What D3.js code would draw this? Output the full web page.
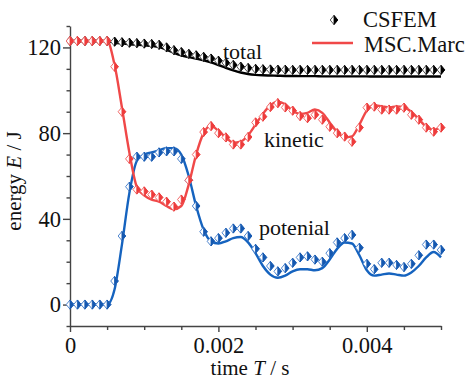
<!DOCTYPE html>
<html>
<head>
<meta charset="utf-8">
<script src="https://cdn.jsdelivr.net/npm/d3@7"></script>
<style>
  html, body { margin: 0; padding: 0; background: #fff; }
  svg { display: block; }
  svg text { font-family: "Liberation Serif", "Times New Roman", "DejaVu Serif", serif; fill: #111; }
</style>
</head>
<body>
<svg id="chart" width="472" height="381"></svg>
<script>
// time samples (s)
const times = [
  0, 0.0001, 0.0002, 0.0003, 0.0004, 0.0005, 0.0006, 0.0007, 0.0008, 0.0009,
  0.0010, 0.0011, 0.0012, 0.0013, 0.0014, 0.0015, 0.0016, 0.0017, 0.0018, 0.0019,
  0.0020, 0.0021, 0.0022, 0.0023, 0.0024, 0.0025, 0.0026, 0.0027, 0.0028, 0.0029,
  0.0030, 0.0031, 0.0032, 0.0033, 0.0034, 0.0035, 0.0036, 0.0037, 0.0038, 0.0039,
  0.0040, 0.0041, 0.0042, 0.0043, 0.0044, 0.0045, 0.0046, 0.0047, 0.0048, 0.0049,
  0.0050
];

// MSC.Marc reference solution (J)
const totalMarc = [
  123, 123, 123, 123, 123, 123, 122.2, 121.8, 121.5, 121.3,
  121, 120.7, 120.2, 119, 117.5, 116.3, 115.5, 114.8, 114, 113,
  111.8, 110.5, 109.3, 108.3, 107.6, 107.2, 107, 106.9, 106.8, 106.7,
  106.7, 106.6, 106.6, 106.6, 106.5, 106.5, 106.5, 106.5, 106.5, 106.5,
  106.5, 106.4, 106.4, 106.4, 106.4, 106.4, 106.4, 106.4, 106.4, 106.4,
  106.4
];
const kineticMarc = [
  123, 123, 123, 123, 123, 123, 112, 92, 71, 55,
  51, 49, 48, 46, 44.5, 46, 56, 70, 80, 83.5,
  81, 78, 75.5, 76, 79, 84, 89, 93, 94.7, 93.5,
  90.5, 89, 89.5, 91, 89.5, 85, 80.5, 78, 78.5, 84,
  90.5, 93, 92.5, 92, 92.5, 92, 90, 86.5, 83, 81.5,
  83
];
const potentialMarc = [
  0, 0, 0, 0, 0, 0, 7, 28, 52, 67,
  70, 71, 72, 73, 73, 70, 60, 46, 35, 29.5,
  28.5, 29.5, 31, 31.5, 29, 24, 18, 14, 12.5, 13.5,
  15.5, 16.5, 16.5, 16, 17, 21, 26, 29, 28.5, 23,
  16, 13.5, 14, 14.5, 14, 13.5, 15, 18, 22, 24.5,
  22
];

// CSFEM solution (J)
const totalCsfem = [
  123, 123, 123, 123, 123, 123, 122.7, 122.4, 122.2, 122,
  121.8, 121.6, 121.2, 120, 118.7, 117.8, 117, 116.3, 115.6, 114.8,
  113.8, 112.8, 111.8, 111, 110.4, 110, 109.8, 109.7, 109.6, 109.6,
  109.5, 109.5, 109.5, 109.5, 109.5, 109.5, 109.5, 109.5, 109.5, 109.5,
  109.5, 109.5, 109.5, 109.5, 109.5, 109.5, 109.5, 109.5, 109.5, 109.5,
  109.5
];
const kineticCsfem = [
  123, 123, 123, 123, 123, 123, 111, 90, 68, 53.7,
  52.8, 51.3, 50, 48, 45.7, 49, 58, 70, 80.5, 83.3,
  80, 78, 74.7, 74.7, 78.2, 85, 87.7, 92.2, 94, 92,
  90.5, 88, 87, 88.6, 86.3, 83, 80, 78.4, 76, 82.6,
  91.9, 92.4, 91, 91, 91, 91.9, 88.6, 86.3, 82.6, 80.7,
  82.6
];
const potentialCsfem = [
  0, 0, 0, 0, 0, 0, 11, 32, 55, 69,
  69, 69, 71, 71.5, 71.5, 68, 58, 46, 34, 29.5,
  31, 33.5, 35.5, 35.5, 32, 26, 22, 18, 15.5, 17,
  19.5, 22, 22.5, 21, 20, 24, 29, 31, 32.5, 26.5,
  19, 16.5, 19.5, 19.5, 18.5, 17.5, 19, 23, 28, 28,
  25.5
];

const xTicks = [0, 0.002, 0.004];
const xMinorTicks = [0.0005, 0.001, 0.0015, 0.0025, 0.003, 0.0035, 0.0045, 0.005];
const yTicks = [0, 40, 80, 120];
const yMinorTicks = [-10, 10, 20, 30, 50, 60, 70, 90, 100, 110, 130];

const seriesLabels = { total: "total", kinetic: "kinetic", potential: "potenial" };
const legendLabels = ["CSFEM", "MSC.Marc"];

const serif = '"Liberation Serif", "Times New Roman", "DejaVu Serif", serif';
const svg = d3.select("#chart");
const axisColor = "#444";

const x = d3.scaleLinear().domain([0, 0.005]).range([70, 441]);
const y = d3.scaleLinear().domain([-10, 130]).range([326, 26]);

// axes
const gx = svg.append("g").attr("transform", `translate(0,${y(-10)})`);
gx.call(d3.axisBottom(x).tickValues(xTicks).tickSize(6).tickSizeOuter(0).tickPadding(5)
  .tickFormat(d => d === 0 ? "0" : d3.format(".3f")(d)));
gx.append("g").call(d3.axisBottom(x).tickValues(xMinorTicks).tickSize(4).tickFormat(""))
  .select(".domain").remove();

const gy = svg.append("g").attr("transform", `translate(${x(0)},0)`);
gy.call(d3.axisLeft(y).tickValues(yTicks).tickSize(7).tickSizeOuter(0).tickPadding(2));
gy.append("g").call(d3.axisLeft(y).tickValues(yMinorTicks).tickSize(3.5).tickFormat(""))
  .select(".domain").remove();

svg.selectAll("g").attr("font-family", serif);
svg.selectAll(".domain, .tick line").attr("stroke", axisColor).attr("stroke-width", 1.4);
svg.selectAll(".tick text").attr("fill", "#111").attr("font-size", 22.5);

// axis titles
svg.append("text")
  .attr("transform", `translate(21,181) rotate(-90)`)
  .attr("text-anchor", "middle")
  .attr("font-size", 21)
  .html('energy <tspan font-style="italic">E</tspan> / J');
svg.append("text")
  .attr("x", 250).attr("y", 375)
  .attr("text-anchor", "middle")
  .attr("font-size", 21)
  .html('time <tspan font-style="italic">T</tspan> / s');

const colors = {
  total: { line: "#000000", fill: "#000000", edge: "#555555" },
  kinetic: { line: "#f04848", fill: "#ee3b3b", edge: "#f26a6a" },
  potential: { line: "#1563bf", fill: "#1458b0", edge: "#4f86cf" }
};

const line = d3.line()
  .x((d, i) => x(times[i]))
  .y(d => y(d))
  .curve(d3.curveMonotoneX);

// half-filled diamond marker: open left half, solid right half
const mw = 3.8, mh = 4.6;
function drawMarkers(g, values, c) {
  const m = g.selectAll("g.m").data(values).join("g")
    .attr("class", "m")
    .attr("transform", (d, i) => `translate(${x(times[i])},${y(d)})`);
  m.append("path")
    .attr("d", `M0,${-mh}L${-mw},0L0,${mh}L${mw},0Z`)
    .attr("fill", "#fff").attr("stroke", c.edge).attr("stroke-width", 1);
  m.append("path")
    .attr("d", `M0,${-mh}L${mw},0L0,${mh}Z`)
    .attr("fill", c.fill).attr("stroke", c.fill).attr("stroke-width", 0.8);
}

const plot = svg.append("g");
const order = [
  ["total", totalMarc, totalCsfem],
  ["potential", potentialMarc, potentialCsfem],
  ["kinetic", kineticMarc, kineticCsfem]
];
order.forEach(([key, marc]) => {
  plot.append("path").datum(marc)
    .attr("d", line)
    .attr("fill", "none")
    .attr("stroke", colors[key].line)
    .attr("stroke-width", 2.4);
});
order.forEach(([key, , csfem]) => {
  drawMarkers(plot.append("g"), csfem, colors[key]);
});

// series annotations
svg.append("text").attr("x", 223).attr("y", 59).attr("font-size", 22).text(seriesLabels.total);
svg.append("text").attr("x", 264).attr("y", 147).attr("font-size", 22).text(seriesLabels.kinetic);
svg.append("text").attr("x", 259).attr("y", 235).attr("font-size", 22).text(seriesLabels.potential);

// legend
const lg = svg.append("g");
const lm = lg.append("g").attr("transform", "translate(334,20)");
lm.append("path").attr("d", `M0,${-mh}L${-mw},0L0,${mh}L${mw},0Z`)
  .attr("fill", "#fff").attr("stroke", colors.total.edge).attr("stroke-width", 1);
lm.append("path").attr("d", `M0,${-mh}L${mw},0L0,${mh}Z`)
  .attr("fill", "#000").attr("stroke", "#000").attr("stroke-width", 0.8);
lg.append("text").attr("x", 363).attr("y", 27).attr("font-size", 22.5).text(legendLabels[0]);
lg.append("line").attr("x1", 312).attr("x2", 353).attr("y1", 43).attr("y2", 43)
  .attr("stroke", colors.kinetic.line).attr("stroke-width", 2.4);
lg.append("text").attr("x", 364).attr("y", 52).attr("font-size", 22.5).text(legendLabels[1]);
</script>
</body>
</html>
